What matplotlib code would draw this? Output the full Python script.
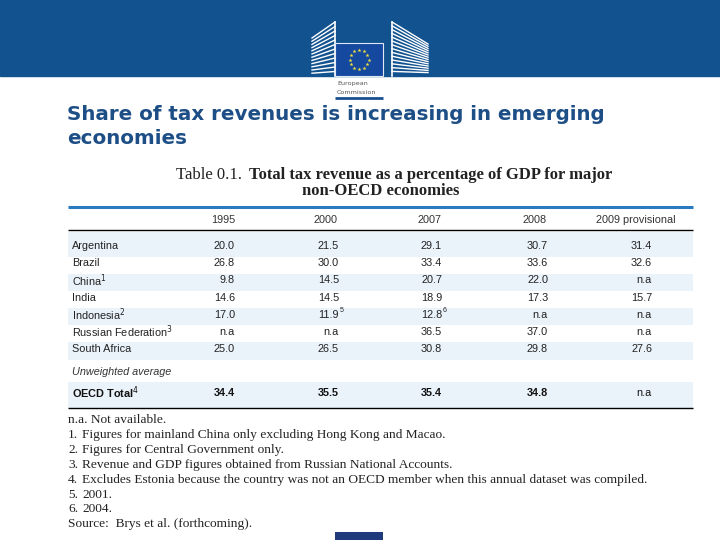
import numpy as np
import matplotlib
matplotlib.use("Agg")
import matplotlib.pyplot as plt
from matplotlib.patches import Rectangle

# data
years = ["1995", "2000", "2007", "2008", "2009 provisional"]
countries = ["Argentina", "Brazil", "China", "India", "Indonesia",
             "Russian Federation", "South Africa"]
country_notes = ["", "", "1", "", "2", "3", ""]
nan = np.nan
v1995 = [20.0, 26.8, 9.8, 14.6, 17.0, nan, 25.0]
v2000 = [21.5, 30.0, 14.5, 14.5, 11.9, nan, 26.5]
v2007 = [29.1, 33.4, 20.7, 18.9, 12.8, 36.5, 30.8]
v2008 = [30.7, 33.6, 22.0, 17.3, nan, 37.0, 29.8]
v2009 = [31.4, 32.6, nan, 15.7, nan, nan, 27.6]
# cell superscripts: (row, column) -> note
cell_notes = {(4, 1): "5", (4, 2): "6"}
oecd_total = [34.4, 35.5, 35.4, 34.8, nan]

footnotes = [
    ("", "n.a. Not available."),
    ("1.", "Figures for mainland China only excluding Hong Kong and Macao."),
    ("2.", "Figures for Central Government only."),
    ("3.", "Revenue and GDP figures obtained from Russian National Accounts."),
    ("4.", "Excludes Estonia because the country was not an OECD member when this annual dataset was compiled."),
    ("5.", "2001."),
    ("6.", "2004."),
    ("", "Source:  Brys et al. (forthcoming)."),
]

title = "Share of tax revenues is increasing in emerging\neconomies"

narrow = ["Liberation Sans Narrow", "Liberation Sans", "DejaVu Sans"]
serif = ["Liberation Serif", "DejaVu Serif"]

def fmt(v):
    if np.isnan(v):
        return "n.a"
    return "%.1f" % v

fig = plt.figure(figsize=(7.2, 5.4), dpi=100)
ax = fig.add_axes([0, 0, 1, 1])
ax.set_xlim(0, 720)
ax.set_ylim(540, 0)
ax.axis("off")

# header band
ax.add_patch(Rectangle((0, 0), 720, 76, color="#12528f", zorder=0))

# logo: buildings
for i in range(12):
    y = 38 + i * 3.2
    ax.plot([312, 335], [y, y - 16 + i * 1.3], color="white", lw=1.0, zorder=1)
for i in range(14):
    y = 22 + i * 3.8
    ax.plot([392, 428], [y, y + 22 - i * 1.6], color="white", lw=1.0, zorder=1)
ax.plot([335, 335], [22, 76], color="white", lw=1.2)
ax.plot([392, 392], [22, 76], color="white", lw=1.2)
# flag
ax.add_patch(Rectangle((335, 43), 48, 33, facecolor="#1549a0", edgecolor="#dfe8f5", lw=0.8, zorder=2))
ang = np.linspace(0, 2 * np.pi, 13)[:-1]
ax.scatter(359 + 9.5 * np.cos(ang), 59.5 + 9.5 * np.sin(ang), marker="*", s=9,
           color="#f3e23a", zorder=3, linewidths=0)
ax.text(337, 84, "European", fontsize=4.6, color="#555555", va="center")
ax.text(337, 92, "Commission", fontsize=4.6, color="#555555", va="center")
ax.plot([335, 383], [97.5, 97.5], color="#1a4f8f", lw=2, solid_capstyle="butt")

# slide title
ax.text(67, 126.5, title, fontsize=14.3, fontweight="bold", color="#1d4f86",
        va="center", ha="left", linespacing=1.3)

# table title
fig.canvas.draw()
renderer = fig.canvas.get_renderer()
t1 = ax.text(176, 175, "Table 0.1.", family=serif, fontsize=12, va="center", color="#222222")
bb = t1.get_window_extent(renderer)
x_end = ax.transData.inverted().transform((bb.x1, bb.y0))[0]
ax.text(x_end + 7, 175, "Total tax revenue as a percentage of GDP for major", family=serif,
        fontsize=12, fontweight="bold", va="center", color="#222222")
ax.text(381, 191, "non-OECD economies", family=serif, fontsize=12,
        fontweight="bold", va="center", ha="center", color="#222222")

# table frame
x0, x1 = 68, 693
ax.plot([x0, x1], [207, 207], color="#2a7ac0", lw=2.2, solid_capstyle="butt")
ax.plot([x0, x1], [229.5, 229.5], color="black", lw=1.0, solid_capstyle="butt")
ax.plot([x0, x1], [408, 408], color="black", lw=1.0, solid_capstyle="butt")

col_right = [235, 339, 442, 548, 652]
head_right = [235, 338, 442, 547, 676]
for yr, xr in zip(years, head_right):
    ax.text(xr, 220, yr, family=narrow, fontsize=7.8, ha="right", va="center", color="#333333")

shade = "#eaf2fa"
row_y = [246 + i * 17.2 for i in range(len(countries))]
shade_spans = [(232, 256.5), (273.5, 291), (307.5, 325), (342, 359.5), (382, 407.5)]
for top, bot in shade_spans:
    ax.add_patch(Rectangle((x0, top), x1 - x0, bot - top, color=shade, zorder=0, lw=0))

cols = [v1995, v2000, v2007, v2008, v2009]
for i, (name, note) in enumerate(zip(countries, country_notes)):
    y = row_y[i]
    label = name + ("$^{%s}$" % note if note else "")
    ax.text(72, y, label, family=narrow, fontsize=7.8, va="center", color="#222222")
    for j, col in enumerate(cols):
        ax.text(col_right[j], y, fmt(col[i]), family=narrow, fontsize=7.8,
                ha="right", va="center", color="#222222")
        if (i, j) in cell_notes:
            ax.text(col_right[j] + 0.5, y - 4, cell_notes[(i, j)], family=narrow,
                    fontsize=5, ha="left", va="center", color="#222222")

ax.text(72, 372, "Unweighted average", family=narrow, fontsize=7.8, style="italic",
        va="center", color="#333333")
ax.text(72, 393, "OECD Total$^{4}$", family=narrow, fontsize=7.8, fontweight="bold",
        va="center", color="#111111")
for j, v in enumerate(oecd_total):
    ax.text(col_right[j], 393, fmt(v), family=narrow, fontsize=7.8,
            fontweight="normal" if np.isnan(v) else "bold",
            ha="right", va="center", color="#111111")

# footnotes
for k, (num, txt) in enumerate(footnotes):
    y = 420 + k * 14.9
    if num:
        ax.text(68, y, num, family=serif, fontsize=9.6, va="center", color="#222222")
        ax.text(82, y, txt, family=serif, fontsize=9.6, va="center", color="#222222")
    else:
        ax.text(68, y, txt, family=serif, fontsize=9.6, va="center", color="#222222")

# footer mark
ax.add_patch(Rectangle((335, 532), 48, 8, color="#1f3b7b", lw=0))

fig.savefig("out.png", dpi=100)
